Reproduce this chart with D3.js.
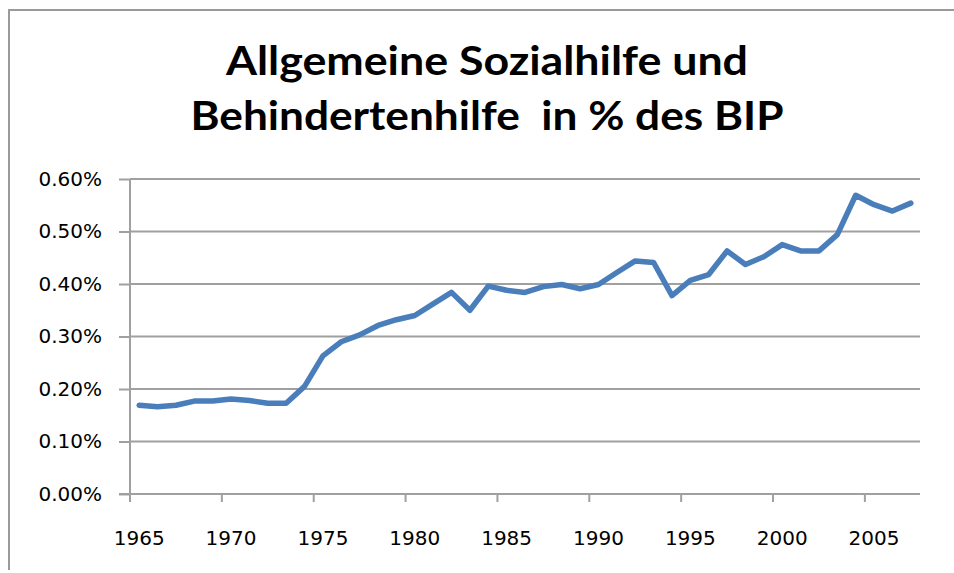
<!DOCTYPE html>
<html>
<head>
<meta charset="utf-8">
<script src="https://cdn.jsdelivr.net/npm/d3@7"></script>
<style>
  html, body { margin: 0; padding: 0; background: #fff; overflow: hidden; }
  svg { display: block; }
</style>
</head>
<body>
<svg id="chart" width="954" height="573"></svg>
<script>
// values (share of GDP, in %)
const years = [
  '1965', '1966', '1967', '1968', '1969', '1970', '1971', '1972', '1973', '1974',
  '1975', '1976', '1977', '1978', '1979', '1980', '1981', '1982', '1983', '1984',
  '1985', '1986', '1987', '1988', '1989', '1990', '1991', '1992', '1993', '1994',
  '1995', '1996', '1997', '1998', '1999', '2000', '2001', '2002', '2003', '2004',
  '2005', '2006', '2007'
];
const values = [
  0.169, 0.166, 0.169, 0.177, 0.177, 0.181, 0.178, 0.173, 0.173, 0.205,
  0.263, 0.290, 0.303, 0.321, 0.332, 0.340, 0.362, 0.384, 0.350, 0.396,
  0.388, 0.384, 0.395, 0.399, 0.391, 0.399, 0.422, 0.444, 0.441, 0.378,
  0.407, 0.418, 0.463, 0.437, 0.452, 0.475, 0.463, 0.463, 0.494, 0.569,
  0.551, 0.539, 0.554
];
const xTickLabels = ['1965', '1970', '1975', '1980', '1985', '1990', '1995', '2000', '2005'];
const yTicks = [0, 0.1, 0.2, 0.3, 0.4, 0.5, 0.6];
const titleLines = ['Allgemeine Sozialhilfe und', 'Behindertenhilfe  in % des BIP'];

const data = years.map((y, i) => ({ year: y, value: values[i] }));

const svg = d3.select('#chart');
const plotLeft = 130, plotRight = 920, plotTop = 179, plotBottom = 494;

// chart area border, only left and top edges are in frame
svg.append('path')
  .attr('d', 'M9,570V10H960')
  .attr('fill', 'none')
  .attr('stroke', '#9a9a9a')
  .attr('stroke-width', 2);

const x = d3.scaleBand().domain(years).range([plotLeft, plotRight]).padding(0);
const y = d3.scaleLinear().domain([0, 0.6]).range([plotBottom, plotTop]);

// title
const titleSpecs = [
  { cx: 487, y: 75, len: 522 },
  { cx: 487, y: 130, len: 593 }
];
svg.append('g')
  .selectAll('text')
  .data(titleLines)
  .join('text')
  .attr('x', (d, i) => titleSpecs[i].cx)
  .attr('y', (d, i) => titleSpecs[i].y)
  .attr('text-anchor', 'middle')
  .attr('textLength', (d, i) => titleSpecs[i].len)
  .attr('lengthAdjust', 'spacingAndGlyphs')
  .style('white-space', 'pre')
  .style('font-family', 'Lato, "Open Sans", sans-serif')
  .style('font-weight', 700)
  .style('font-size', '41px')
  .style('fill', '#000')
  .text(d => d);

// gridlines
svg.append('g')
  .selectAll('line')
  .data(yTicks.filter(d => d > 0))
  .join('line')
  .attr('x1', plotLeft).attr('x2', plotRight)
  .attr('y1', d => y(d)).attr('y2', d => y(d))
  .attr('stroke', '#a0a0a0')
  .attr('stroke-width', 2);

// y axis
const yAxis = svg.append('g')
  .attr('transform', `translate(${plotLeft},0)`)
  .call(d3.axisLeft(y)
    .tickValues(yTicks)
    .tickSize(11)
    .tickPadding(17)
    .tickFormat(d => d.toFixed(2) + '%'));

// x axis, ticks sit between categories like the spreadsheet version
const xAxis = svg.append('g')
  .attr('transform', `translate(0,${plotBottom})`)
  .call(d3.axisBottom(x)
    .tickValues(xTickLabels)
    .tickSize(8)
    .tickPadding(29));

xAxis.selectAll('.tick line')
  .attr('transform', `translate(${-x.bandwidth() / 2},0)`);

[yAxis, xAxis].forEach(g => {
  g.select('.domain').attr('stroke', '#a0a0a0').attr('stroke-width', 2);
  g.selectAll('.tick line').attr('stroke', '#a0a0a0').attr('stroke-width', 2);
  g.selectAll('.tick text')
    .style('font-family', '"DejaVu Sans", sans-serif')
    .style('font-size', '20px')
    .style('fill', '#000');
});
yAxis.select('.domain').attr('d', `M0,${plotTop}V${plotBottom + 3}`);
xAxis.select('.domain').attr('d', `M${plotLeft - 11},0H${plotRight}`);

// the series
const line = d3.line()
  .x(d => x(d.year) + x.bandwidth() / 2)
  .y(d => y(d.value));

svg.append('path')
  .datum(data)
  .attr('d', line)
  .attr('fill', 'none')
  .attr('stroke', '#4a7ebb')
  .attr('stroke-width', 5.5)
  .attr('stroke-linejoin', 'round')
  .attr('stroke-linecap', 'round');
</script>
</body>
</html>
